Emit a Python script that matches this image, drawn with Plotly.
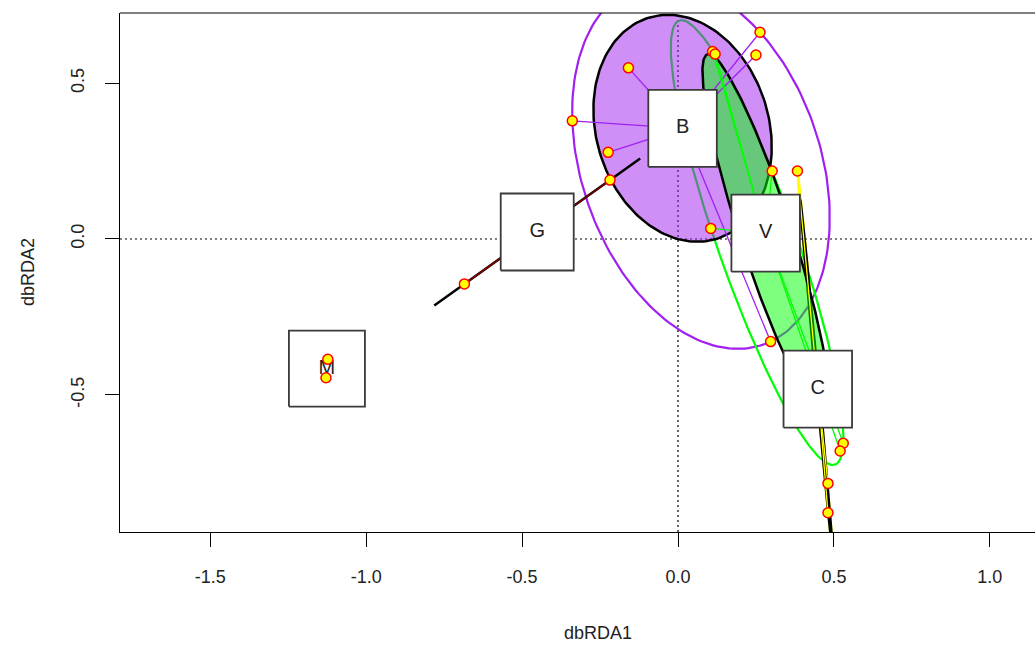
import numpy as np
import plotly.graph_objects as go

# Site scores on the first two dbRDA axes and their grouping
dbrda1 = [0.263, 0.111, 0.119, 0.250, -0.159, -0.339, -0.224, -0.218, 0.302, 0.383,
          0.105, 0.297, 0.530, 0.520, 0.481, 0.481, -1.123, -1.129, -0.685]
dbrda2 = [0.663, 0.601, 0.593, 0.590, 0.549, 0.379, 0.278, 0.189, 0.218, 0.218,
          0.034, -0.329, -0.655, -0.680, -0.784, -0.878, -0.386, -0.445, -0.144]
site_group = ["B", "V", "V", "B", "B", "B", "B", "G", "V", "C",
              "V", "B", "V", "V", "C", "C", "M", "M", "G"]

group_levels = ["B", "C", "G", "M", "V"]
x_ticks = [-1.5, -1.0, -0.5, 0.0, 0.5, 1.0]
y_ticks = [-0.5, 0.0, 0.5]

# ---- styling -------------------------------------------------------------
group_rgb = {"B": (160, 32, 240), "C": (255, 255, 0), "G": (139, 0, 0),
             "M": (0, 0, 255), "V": (0, 255, 0)}
label_box_px = {"M": (76, 76), "G": (73, 77)}   # width, height of label boxes
default_box_px = (68.5, 77)

W, H = 1035, 645
ML, MT = 120, 13
PLOT_W, PLOT_H = 915, 519
UNIT = 311.8                      # pixels per axis unit (equal aspect)
X_LEFT, Y_TOP = -1.7896, 0.7248
x_range = [X_LEFT, X_LEFT + PLOT_W / UNIT]
y_range = [Y_TOP - PLOT_H / UNIT, Y_TOP]
FONT = "Liberation Sans, Arial, sans-serif"


def rgb(c, a=None):
    if a is None:
        return "rgb(%d,%d,%d)" % c
    return "rgba(%d,%d,%d,%.2f)" % (c + (a,))


def sd_ellipse(pts, n=200):
    """Standard-deviation ellipse (unbiased covariance, scale 1)."""
    c = pts.mean(axis=0)
    cov = np.cov(pts.T)
    vals, vecs = np.linalg.eigh(cov)
    vals = np.clip(vals, 0, None)
    t = np.linspace(0, 2 * np.pi, n + 1)
    circ = np.column_stack([np.cos(t), np.sin(t)])
    return c + circ @ (np.sqrt(vals)[:, None] * vecs.T)


def hull_ellipse(pts, n=200, tol=1e-10):
    """Minimum-volume ellipse enclosing the points (Khachiyan iterations)."""
    N, d = pts.shape
    Q = np.vstack([pts.T, np.ones(N)])
    u = np.full(N, 1.0 / N)
    for _ in range(50000):
        X = (Q * u) @ Q.T
        M = np.einsum("ij,ji->i", Q.T @ np.linalg.inv(X), Q)
        j = int(np.argmax(M))
        step = (M[j] - d - 1) / ((d + 1) * (M[j] - 1))
        new_u = (1 - step) * u
        new_u[j] += step
        done = np.linalg.norm(new_u - u) < tol
        u = new_u
        if done:
            break
    c = pts.T @ u
    S = (pts.T * u) @ pts - np.outer(c, c)
    Sinv = np.linalg.inv(S)
    d2 = max(float((p - c) @ Sinv @ (p - c)) for p in pts)
    vals, vecs = np.linalg.eigh(S * d2)
    vals = np.clip(vals, 0, None)
    t = np.linspace(0, 2 * np.pi, n + 1)
    circ = np.column_stack([np.cos(t), np.sin(t)])
    return c + circ @ (np.sqrt(vals)[:, None] * vecs.T)


xs = np.array(dbrda1)
ys = np.array(dbrda2)
grp = np.array(site_group)
members = {g: np.column_stack([xs[grp == g], ys[grp == g]]) for g in group_levels}
centres = {g: members[g].mean(axis=0) for g in group_levels}

fig = go.Figure()

# enclosing ellipses (outlines)
for g in group_levels:
    pts = members[g]
    if len(pts) < 3:
        continue
    e = hull_ellipse(pts)
    fig.add_trace(go.Scatter(x=e[:, 0], y=e[:, 1], mode="lines",
                             line=dict(color=rgb(group_rgb[g]), width=2.2),
                             hoverinfo="skip", showlegend=False))

# standard-deviation ellipses (translucent polygons)
for g in group_levels:
    e = sd_ellipse(members[g])
    fig.add_trace(go.Scatter(x=e[:, 0], y=e[:, 1], mode="lines", fill="toself",
                             fillcolor=rgb(group_rgb[g], 0.5),
                             line=dict(color="black", width=2.5),
                             hoverinfo="skip", showlegend=False))

# spiders from group centroids to sites
for g in group_levels:
    cx, cy = centres[g]
    sx, sy = [], []
    for px, py in members[g]:
        sx += [cx, px, None]
        sy += [cy, py, None]
    fig.add_trace(go.Scatter(x=sx, y=sy, mode="lines",
                             line=dict(color=rgb(group_rgb[g]), width=1.3),
                             hoverinfo="skip", showlegend=False))

# centroid labels in white boxes
for g in group_levels:
    cx, cy = centres[g]
    wpx, hpx = label_box_px.get(g, default_box_px)
    hw, hh = wpx / 2 / UNIT, hpx / 2 / UNIT
    fig.add_trace(go.Scatter(x=[cx - hw, cx + hw, cx + hw, cx - hw, cx - hw],
                             y=[cy - hh, cy - hh, cy + hh, cy + hh, cy - hh],
                             mode="lines", fill="toself", fillcolor="white",
                             line=dict(color="#3a3a3a", width=1.8),
                             hoverinfo="skip", showlegend=False))
fig.add_trace(go.Scatter(x=[centres[g][0] for g in group_levels],
                         y=[centres[g][1] for g in group_levels],
                         mode="text", text=group_levels, textposition="middle center",
                         textfont=dict(family=FONT, size=20, color="#222222"),
                         hoverinfo="skip", showlegend=False))

# site points
fig.add_trace(go.Scatter(x=dbrda1, y=dbrda2, mode="markers",
                         marker=dict(size=10, color="yellow",
                                     line=dict(color="red", width=1.5)),
                         text=site_group, showlegend=False))

axis_common = dict(showgrid=False, zeroline=False, ticks="outside", ticklen=14,
                   tickwidth=1.2, tickcolor="black", showline=True,
                   linecolor="black", linewidth=1.2,
                   tickfont=dict(family=FONT, size=18, color="#222222"))

fig.update_layout(
    width=W, height=H,
    margin=dict(l=ML, r=W - ML - PLOT_W, t=MT, b=H - MT - PLOT_H),
    paper_bgcolor="white", plot_bgcolor="white",
    xaxis=dict(range=x_range, tickvals=x_ticks,
               ticktext=["%.1f" % v for v in x_ticks],
               ticklabelstandoff=14, **axis_common),
    yaxis=dict(range=y_range, tickvals=y_ticks,
               ticktext=["%.1f" % v for v in y_ticks], tickangle=-90,
               ticklabelstandoff=14, **axis_common),
    shapes=[
        dict(type="line", xref="x", yref="paper", x0=0, x1=0, y0=0, y1=1,
             line=dict(color="black", width=1.2, dash="2px,3px"), layer="below"),
        dict(type="line", xref="paper", yref="y", x0=0, x1=1, y0=0, y1=0,
             line=dict(color="black", width=1.2, dash="2px,3px"), layer="below"),
        dict(type="line", xref="paper", yref="paper", x0=0, x1=1, y0=1, y1=1,
             line=dict(color="black", width=1.2), layer="above"),
    ],
    annotations=[
        dict(text="dbRDA1", xref="paper", yref="paper",
             x=(598 - ML) / PLOT_W, y=-(633 - MT - PLOT_H) / PLOT_H,
             xanchor="center", yanchor="middle",
             showarrow=False, font=dict(family=FONT, size=18, color="#222222")),
        dict(text="dbRDA2", xref="paper", yref="paper",
             x=(28 - ML) / PLOT_W, y=(MT + PLOT_H - 272) / PLOT_H, textangle=-90,
             xanchor="center", yanchor="middle",
             showarrow=False, font=dict(family=FONT, size=18, color="#222222")),
    ],
)

fig.write_html("out.html")
